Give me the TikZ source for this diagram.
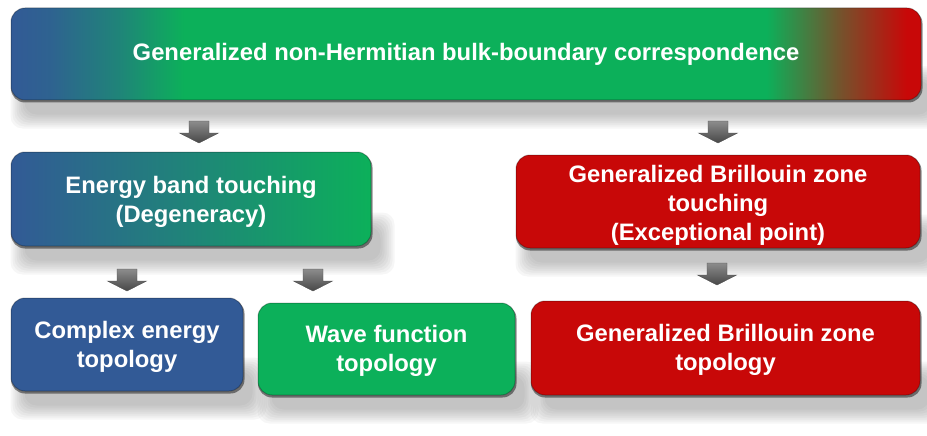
\documentclass[tikz,border=0pt]{standalone}
\usepackage{fontspec}
\setmainfont{Liberation Sans}
\usetikzlibrary{calc}
\pgfdeclarelayer{shadowlayer}
\pgfdeclarelayer{edgelayer}
\pgfsetlayers{shadowlayer,edgelayer,main}
\definecolor{cblue}{RGB}{50,90,150}
\definecolor{cgreen}{RGB}{12,176,90}
\definecolor{cred}{RGB}{200,8,8}
\colorlet{cteal}{cblue!50!cgreen}
\colorlet{cbrown}{cgreen!45!cred}
\pgfdeclarehorizontalshading{topbar}{100bp}{color(0bp)=(cblue); color(25bp)=(cblue); color(27.2bp)=(cblue!90!cgreen); color(31bp)=(cteal); color(34.5bp)=(cgreen); color(66.5bp)=(cgreen); color(70.5bp)=(cbrown); color(74.2bp)=(cred); color(100bp)=(cred)}
\tikzset{
  box/.style={rounded corners=14pt, text=white, font=\fontsize{23.8}{29}\selectfont\bfseries,
    align=center, inner sep=0pt, draw=black, draw opacity=0.25, line width=1pt},
  downarrow/.pic={
    \shade[top color=black!45, bottom color=black!72, draw=black!70, line width=0.4pt]
      (-10,-11) -- (10,-11) -- (10,1) -- (19.5,1) -- (0,11) -- (-19.5,1) -- (-10,1) -- cycle;
  }
}
\begin{document}
\begin{tikzpicture}[x=1pt,y=-1pt]
\useasboundingbox (0,0) rectangle (927,436);

\node[box, shade, shading=topbar, minimum width=910, minimum height=92] (top) at (466,54)
  {Generalized non-Hermitian bulk-boundary correspondence};
\node[box, left color=cblue, right color=cgreen, minimum width=360, minimum height=94] (energy) at (191,199)
  {\rule{0pt}{24pt}Energy band touching\\(Degeneracy)};
\node[box, fill=cred, minimum width=404, minimum height=93] (gbzt) at (718,201.5)
  {\rule{0pt}{24pt}Generalized Brillouin zone\\touching\\(Exceptional point)};
\node[box, fill=cblue, minimum width=232, minimum height=93] (complex) at (127,344.5)
  {\rule{0pt}{22pt}Complex energy\\topology};
\node[box, fill=cgreen, minimum width=257, minimum height=92] (wave) at (386.5,349)
  {\rule{0pt}{22pt}Wave function\\topology};
\node[box, fill=cred, minimum width=389, minimum height=94] (gbztop) at (725.5,348)
  {\rule{0pt}{22pt}Generalized Brillouin zone\\topology};

\pic at (199,132) {downarrow};
\pic at (718,132) {downarrow};
\pic at (127,280) {downarrow};
\pic at (313,280) {downarrow};
\pic at (717,274) {downarrow};

\begin{pgfonlayer}{edgelayer}
\foreach \n in {top,energy,gbzt,complex,wave,gbztop}{
  \fill[black, opacity=0.45, rounded corners=14pt] ($(\n.north west)+(0.5,2)$) rectangle ($(\n.south east)+(1,2)$);
}
\end{pgfonlayer}

\begin{pgfonlayer}{shadowlayer}
\foreach \n in {top,energy,gbzt,complex,wave,gbztop}{
  \foreach \i in {0,...,7}{
    \fill[black!60, opacity=0.06, rounded corners=12pt]
      ($(\n.south west)+({14-2*\i},{-20-2*\i})$) rectangle ($(\n.south east)+({9+2*\i},{14+2*\i})$);
  }
}
\end{pgfonlayer}
\end{tikzpicture}
\end{document}
